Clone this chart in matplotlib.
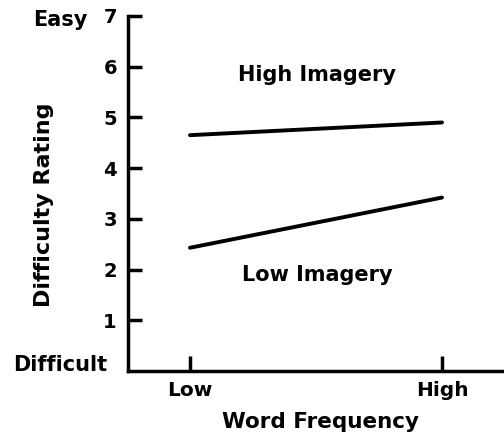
import matplotlib
matplotlib.use("Agg")
import matplotlib.pyplot as plt

freq_labels = ["Low", "High"]
high_imagery = [4.65, 4.90]
low_imagery = [2.43, 3.42]
y_ticks = [1, 2, 3, 4, 5, 6, 7]

plt.rcParams['font.family'] = ['DejaVu Sans']
plt.rcParams['font.weight'] = 'bold'

fig = plt.figure(figsize=(5.04, 4.37), dpi=100)
W, H = 504, 437
ax = fig.add_axes([128 / W, (H - 371) / H, (504 - 128) / W, (371 - 16) / H])

x = [0, 1]
ax.plot(x, high_imagery, color='black', lw=2.8, solid_capstyle='round')
ax.plot(x, low_imagery, color='black', lw=2.8, solid_capstyle='round')

ax.set_xlim(-62 / 252, (504 - 190) / 252)
ax.set_ylim(0, 7)
ax.spines['top'].set_visible(False)
ax.spines['right'].set_visible(False)
ax.spines['left'].set_linewidth(2.5)
ax.spines['bottom'].set_linewidth(2.5)

ax.set_yticks(y_ticks)
ax.set_yticklabels([str(t) for t in y_ticks], fontsize=14, fontweight='bold')
ax.set_xticks(x)
ax.set_xticklabels(freq_labels, fontsize=14.5, fontweight='bold')
ax.tick_params(axis='y', direction='in', length=10, width=2.5, pad=8)
ax.tick_params(axis='x', direction='in', length=11, width=2.5, pad=7)

ax.text(-0.405, 6.8, "Easy", ha='right', va='baseline', fontsize=15, fontweight='bold',
        clip_on=False)
ax.text(-0.33, 0, "Difficult", ha='right', va='baseline', fontsize=15, fontweight='bold',
        clip_on=False)

ax.text(0.504, 5.72, "High Imagery", ha='center', va='baseline', fontsize=15, fontweight='bold')
ax.text(0.504, 1.78, "Low Imagery", ha='center', va='baseline', fontsize=15, fontweight='bold')

fig.text(320 / W, 1 - 422 / H, "Word Frequency", ha='center', va='center', fontsize=15.5, fontweight='bold')
fig.text(44 / W, 1 - 205 / H, "Difficulty Rating", ha='center', va='center', rotation=90,
         fontsize=16, fontweight='bold')

fig.savefig("out.png", dpi=100)
